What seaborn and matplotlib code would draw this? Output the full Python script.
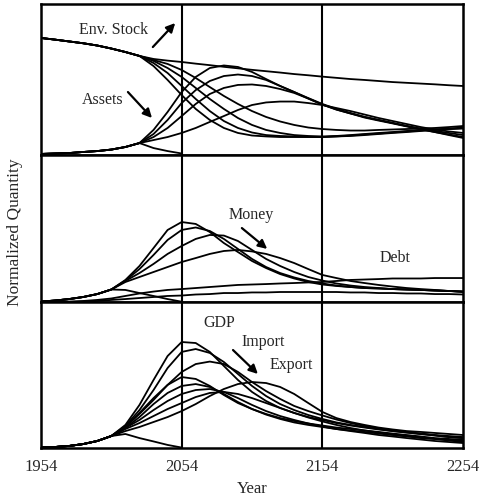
import numpy as np
import matplotlib
matplotlib.use("Agg")
import matplotlib.pyplot as plt
import seaborn as sns

sns.set_style("white")
plt.rcParams['font.family'] = ['Liberation Serif', 'DejaVu Serif']

YEARS = list(range(1954, 2255, 10))
XTICKS = [1954, 2054, 2154, 2254]
XTICK_LABELS = ["1954", "2054", "2154", "2254"]

# ---- top panel: environmental stock and assets (percent of panel height)
ENV_BASE = [77.5, 76.4, 75.2, 74.0, 72.5, 70.5, 68.2, 65.6, 63.6, 62.5, 61.6, 60.5, 59.5,
            58.4, 57.4, 56.4, 55.5, 54.6, 53.6, 52.8, 51.9, 51.1, 50.3, 49.7, 49.0, 48.3,
            47.8, 47.3, 46.8, 46.2, 45.7]
ENV_1 = ENV_BASE[:8] + [58.9, 49.7, 39.7, 30.5, 23.2, 17.9, 14.6, 12.9, 12.3, 11.9, 11.9, 11.9,
                        11.9, 12.3, 12.6, 13.2, 13.9, 14.6, 15.2, 15.9, 16.6, 17.2, 17.9]
ENV_2 = ENV_BASE[:8] + [60.9, 54.3, 45.7, 37.1, 29.1, 22.5, 17.9, 14.9, 13.2, 12.6, 12.3, 11.9,
                        11.9, 12.3, 12.9, 13.6, 14.2, 14.9, 15.6, 16.2, 16.9, 17.5, 18.2]
ENV_3 = ENV_BASE[:8] + [62.3, 57.6, 51.7, 44.4, 37.1, 30.5, 24.5, 19.9, 16.6, 14.6, 13.2, 12.6,
                        12.3, 12.6, 13.2, 13.9, 14.6, 15.2, 15.9, 16.6, 16.9, 17.2, 17.5]
ENV_4 = ENV_BASE[:8] + [62.9, 60.3, 56.3, 51.0, 45.0, 39.1, 33.8, 29.1, 25.2, 22.2, 19.9, 18.2,
                        17.2, 16.6, 16.2, 16.2, 16.6, 16.9, 17.2, 17.5, 17.9, 18.5, 19.2]
ASSET_START = [0.7, 1.0, 1.3, 2.0, 2.6, 3.6, 5.3, 7.9]
ASSET_1 = ASSET_START + [16.6, 28.5, 41.7, 51.7, 57.6, 59.3, 58.3, 55.0, 50.3, 45.7, 41.7, 37.7,
                         33.8, 30.5, 27.8, 25.2, 23.2, 21.2, 19.2, 17.2, 15.2, 13.2, 11.3]
ASSET_2 = ASSET_START + [13.9, 23.2, 34.4, 43.0, 49.0, 52.3, 53.3, 52.3, 49.7, 45.7, 41.7, 37.4,
                         33.4, 30.1, 27.5, 24.8, 22.8, 20.9, 18.9, 16.9, 15.2, 13.6, 11.9]
ASSET_3 = ASSET_START + [11.9, 17.9, 25.8, 33.8, 40.4, 44.4, 46.4, 46.7, 45.7, 43.7, 41.1, 37.4,
                         33.4, 30.1, 27.5, 25.2, 23.2, 21.2, 19.2, 17.5, 15.9, 14.6, 13.2]
ASSET_4 = ASSET_START + [9.9, 11.9, 14.6, 17.9, 21.9, 25.8, 29.8, 33.1, 34.8, 35.4, 35.4, 34.4,
                         33.1, 31.1, 29.1, 26.8, 24.5, 22.5, 20.5, 18.5, 16.9, 15.6, 14.6]
ASSET_0 = ASSET_START + [4.6, 2.6, 1.0]

# ---- middle panel: money and debt
MONEY_START = [0.3, 1.0, 2.0, 3.4, 5.4, 8.5]
MONEY_1 = MONEY_START + [15.0, 24.5, 36.7, 49.0, 54.4, 53.1, 47.6, 40.1, 34.0, 27.9, 23.1, 19.0,
                         16.0, 13.6, 11.9, 10.9, 10.2, 9.5, 9.2, 8.8, 8.5, 8.2, 7.8, 7.5, 7.1]
MONEY_2 = MONEY_START + [14.6, 22.4, 32.0, 42.2, 49.0, 50.7, 48.3, 42.9, 36.1, 29.3, 23.8, 19.7,
                         16.7, 14.3, 12.6, 11.2, 10.2, 9.5, 9.2, 8.8, 8.5, 8.2, 7.8, 7.5, 7.1]
MONEY_3 = MONEY_START + [14.3, 19.7, 25.9, 32.7, 38.1, 42.9, 45.6, 45.2, 41.5, 35.4, 29.3, 24.5,
                         20.4, 17.0, 14.6, 12.6, 11.2, 10.2, 9.5, 8.8, 8.5, 8.2, 7.8, 7.5, 7.1]
MONEY_4 = MONEY_START + [13.6, 17.0, 20.4, 23.8, 27.2, 29.9, 32.7, 34.7, 35.4, 34.4, 32.7, 29.9,
                         26.5, 22.4, 18.4, 16.3, 14.3, 12.9, 11.6, 10.5, 9.5, 8.8, 8.2, 7.5, 6.8]
MONEY_0 = MONEY_START + [8.2, 6.1, 4.1, 2.0, 0.2]
DEBT_1 = [0, 0, 0.3, 0.7, 1.4, 2.4, 4.1, 5.8, 7.1, 8.2, 8.8, 9.5, 10.2, 10.9, 11.6, 11.9, 12.2,
          12.6, 12.9, 13.3, 13.6, 14.3, 15.0, 15.3, 15.6, 16.0, 16.0, 16.0, 16.3, 16.3, 16.3]
DEBT_2 = [0, 0, 0, 0.3, 0.7, 1.4, 2.0, 2.7, 3.4, 4.1, 4.4, 5.1, 5.4, 6.1, 6.1, 6.5, 6.5, 6.8,
          6.8, 6.8, 6.8, 6.8, 6.5, 6.5, 6.1, 6.1, 5.8, 5.8, 5.4, 5.4, 5.1]

# ---- bottom panel: GDP, import, export
GDP_START = [0.3, 0.7, 1.4, 2.7, 4.8, 8.2]
FLOW_1 = GDP_START + [15.8, 29.5, 46.6, 63.0, 72.6, 71.9, 65.8, 56.2, 46.6, 38.4, 32.2, 27.4,
                      24.0, 21.2, 19.2, 17.1, 15.4, 14.0, 12.7, 11.6, 10.6, 9.6, 8.6, 7.5, 6.8]
FLOW_2 = GDP_START + [15.1, 26.0, 39.7, 54.8, 65.8, 67.8, 65.1, 58.9, 50.7, 42.5, 35.6, 30.1,
                      26.0, 22.6, 19.9, 17.5, 15.8, 14.4, 13.0, 11.6, 10.6, 9.6, 8.6, 7.5, 6.8]
FLOW_3 = GDP_START + [14.4, 23.3, 32.9, 43.2, 52.1, 57.5, 59.2, 57.5, 52.1, 45.2, 39.0, 33.6,
                      28.8, 25.3, 22.3, 19.5, 17.1, 15.1, 13.4, 12.0, 11.0, 9.9, 8.9, 8.2, 7.5]
FLOW_4 = GDP_START + [14.4, 24.0, 34.2, 43.2, 48.6, 47.3, 42.5, 36.3, 30.8, 26.7, 23.3, 20.5,
                      18.5, 16.8, 15.4, 14.0, 13.0, 12.0, 11.0, 9.9, 8.9, 7.9, 6.8, 6.2, 5.5]
FLOW_5 = GDP_START + [13.7, 21.2, 30.1, 37.7, 42.5, 43.8, 41.8, 37.0, 31.5, 26.7, 22.9, 19.9,
                      17.5, 15.8, 14.4, 13.0, 12.0, 11.0, 9.9, 8.9, 7.9, 6.8, 6.2, 5.5, 4.8]
FLOW_6 = GDP_START + [13.7, 19.2, 26.0, 32.2, 37.0, 39.7, 40.4, 38.4, 34.2, 29.5, 25.3, 21.9,
                      19.2, 16.8, 14.7, 13.0, 11.6, 10.3, 8.9, 7.9, 6.8, 5.8, 4.8, 4.1, 3.4]
FLOW_7 = GDP_START + [13.0, 17.1, 21.9, 26.7, 30.8, 34.9, 37.7, 38.4, 37.0, 34.2, 30.8, 27.4,
                      24.0, 20.9, 18.2, 15.8, 13.7, 12.0, 10.6, 9.2, 8.2, 7.2, 6.2, 5.1, 4.1]
FLOW_8 = GDP_START + [11.6, 14.4, 17.8, 21.2, 25.3, 30.1, 35.6, 40.4, 43.8, 45.2, 44.5, 41.8,
                      37.0, 30.8, 24.7, 20.5, 17.8, 15.8, 14.0, 12.7, 11.6, 11.0, 10.3, 9.6, 8.9]
FLOW_0 = GDP_START + [9.6, 6.8, 4.5, 2.1, 0.3]

PANELS = [
    [ENV_BASE, ENV_1, ENV_2, ENV_3, ENV_4, ASSET_1, ASSET_2, ASSET_3, ASSET_4, ASSET_0],
    [MONEY_1, MONEY_2, MONEY_3, MONEY_4, MONEY_0, DEBT_1, DEBT_2],
    [FLOW_1, FLOW_2, FLOW_3, FLOW_4, FLOW_5, FLOW_6, FLOW_7, FLOW_8, FLOW_0],
]

fig = plt.figure(figsize=(4.85, 4.96), dpi=100)
W, H = 485.0, 496.0
left_px, right_px = 41, 463
panel_px = [(4, 155), (155, 302), (302, 448)]
axes = []
for (top, bot) in panel_px:
    ax = fig.add_axes([left_px / W, (H - bot) / H, (right_px - left_px) / W, (bot - top) / H])
    axes.append(ax)

for ax, series in zip(axes, PANELS):
    for vals in series:
        sns.lineplot(x=YEARS[:len(vals)], y=vals, ax=ax, color="black", lw=1.3,
                     legend=False, estimator=None, sort=False)
    for xv in XTICKS[1:3]:
        ax.axvline(xv, color="black", lw=1.5)
    ax.set_xlim(1954, 2254)
    ax.set_ylim(0, 100)
    ax.set_yticks([])
    ax.set_ylabel("")
    ax.set_xlabel("")
    for sp in ax.spines.values():
        sp.set_color("black")
        sp.set_linewidth(1.8)
    ax.set_xticks(XTICKS)
    ax.tick_params(axis="x", length=0, pad=8, labelsize=12)
    if ax is not axes[2]:
        ax.set_xticklabels([])
    else:
        ax.set_xticklabels(XTICK_LABELS)

axes[2].set_xlabel("Year", fontsize=12, labelpad=4)
fig.text(15 / W, 1 - 232 / H, "Normalized Quantity", rotation=90, fontsize=12.5,
         ha="center", va="center")

arrow = dict(arrowstyle="-|>", color="black", lw=1.6, mutation_scale=13, shrinkA=0, shrinkB=0)
fs = 11.5
a0, a1, a2 = axes
a0.text(0.171, 0.828, "Env. Stock", transform=a0.transAxes, ha="center", va="center", fontsize=fs)
a0.annotate("", xy=(0.318, 0.874), xytext=(0.265, 0.715), xycoords="axes fraction",
            textcoords="axes fraction", arrowprops=arrow)
a0.text(0.147, 0.364, "Assets", transform=a0.transAxes, ha="center", va="center", fontsize=fs)
a0.annotate("", xy=(0.263, 0.245), xytext=(0.206, 0.417), xycoords="axes fraction",
            textcoords="axes fraction", arrowprops=arrow)
a1.text(0.498, 0.592, "Money", transform=a1.transAxes, ha="center", va="center", fontsize=fs)
a1.annotate("", xy=(0.536, 0.361), xytext=(0.476, 0.503), xycoords="axes fraction",
            textcoords="axes fraction", arrowprops=arrow)
a1.text(0.839, 0.299, "Debt", transform=a1.transAxes, ha="center", va="center", fontsize=fs)
a2.text(0.422, 0.856, "GDP", transform=a2.transAxes, ha="center", va="center", fontsize=fs)
a2.text(0.526, 0.726, "Import", transform=a2.transAxes, ha="center", va="center", fontsize=fs)
a2.text(0.592, 0.568, "Export", transform=a2.transAxes, ha="center", va="center", fontsize=fs)
a2.annotate("", xy=(0.514, 0.507), xytext=(0.455, 0.671), xycoords="axes fraction",
            textcoords="axes fraction", arrowprops=arrow)

fig.savefig("out.png", dpi=100, facecolor="white")
